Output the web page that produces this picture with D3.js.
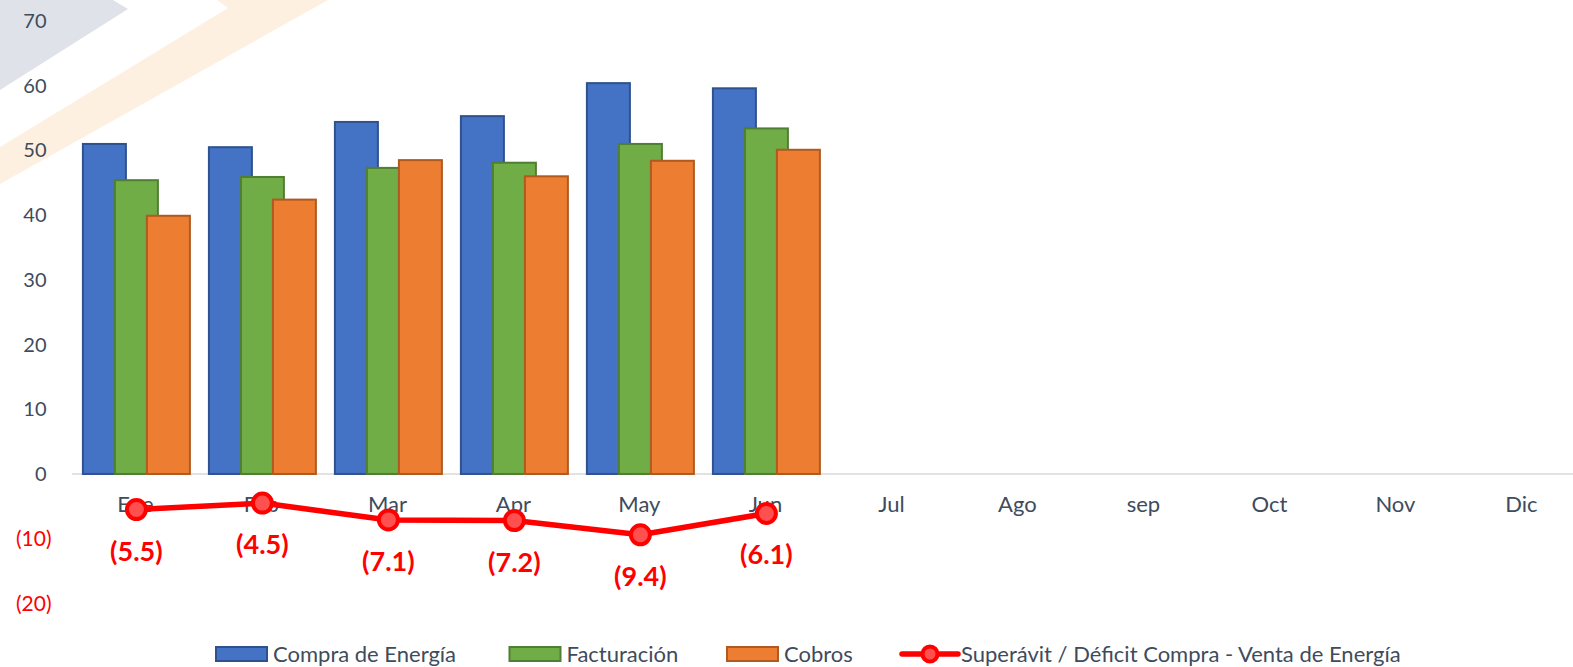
<!DOCTYPE html>
<html><head><meta charset="utf-8">
<script src="https://cdn.jsdelivr.net/npm/d3@7"></script>
<style>html,body{margin:0;padding:0;background:#fff;}svg{display:block;}</style>
</head><body>
<svg id="c" width="1573" height="667"></svg>
<script>
const categories = ["Ene","Feb","Mar","Apr","May","Jun","Jul","Ago","sep","Oct","Nov","Dic"];
const compra = [51.0, 50.5, 54.4, 55.3, 60.4, 59.6];
const facturacion = [45.4, 45.9, 47.3, 48.1, 51.0, 53.4];
const cobros = [39.9, 42.4, 48.5, 46.0, 48.4, 50.1];
const superavit = [-5.5, -4.5, -7.1, -7.2, -9.4, -6.1];
const yTicks = [70, 60, 50, 40, 30, 20, 10, 0, -10, -20];
const seriesNames = ["Compra de Energía", "Facturación", "Cobros", "Superávit / Déficit Compra - Venta de Energía"];

const svg = d3.select("#c");
const FONT = "Lato, 'Open Sans', sans-serif";
const textCol = "#404b5c";

// watermark shapes
svg.append("polygon").attr("points","0,0 113,0 128,9 0,90").attr("fill","#dfe2e9");
svg.append("polygon").attr("points","217,0 328,0 0,184 0,147 228,8").attr("fill","#fdf0e1");

const x = d3.scaleBand().domain(categories).range([72.4, 1584.4]).paddingInner(0).paddingOuter(0);
const y = d3.scaleLinear().domain([-20, 70]).range([603.4, 21]);

// baseline
svg.append("line").attr("x1",72).attr("x2",1573).attr("y1",y(0)).attr("y2",y(0))
  .attr("stroke","#d9d9d9").attr("stroke-width",1.5);

// y axis labels
const fmt = v => v < 0 ? "(" + Math.abs(v) + ")" : String(v);
svg.append("g").selectAll("text").data(yTicks).join("text")
  .attr("x", d => d < 0 ? 51.5 : 46.5)
  .attr("y", d => y(d))
  .attr("dy","0.35em")
  .attr("text-anchor","end")
  .attr("font-family",FONT).attr("font-size", d => d < 0 ? 21 : 20)
  .attr("fill", d => d < 0 ? "#ff0000" : textCol)
  .text(fmt);

// bars
const barW = 43, barStep = 32;
const series = [
  {vals: compra, fill:"#4472c4", stroke:"#2f528f"},
  {vals: facturacion, fill:"#70ad47", stroke:"#507e32"},
  {vals: cobros, fill:"#ed7d31", stroke:"#ae5a21"}
];
const cx = c => x(c) + x.bandwidth()/2 + 1;
series.forEach((s, i) => {
  svg.append("g").selectAll("rect").data(s.vals).join("rect")
    .attr("x", (d, j) => cx(categories[j]) + (i-1)*barStep - barW/2)
    .attr("y", d => y(d))
    .attr("width", barW)
    .attr("height", d => y(0) - y(d))
    .attr("fill", s.fill).attr("stroke", s.stroke).attr("stroke-width", 2);
});

// category labels
svg.append("g").selectAll("text").data(categories).join("text")
  .attr("x", d => x(d) + x.bandwidth()/2)
  .attr("y", 512)
  .attr("text-anchor","middle")
  .attr("font-family",FONT).attr("font-size",22).attr("fill",textCol)
  .text(d => d);

// line
const line = d3.line().x((d,j) => cx(categories[j])).y(d => y(d));
svg.append("path").datum(superavit).attr("d", line)
  .attr("fill","none").attr("stroke","#ff0000").attr("stroke-width",5.5).attr("stroke-linejoin","round");
svg.append("g").selectAll("circle").data(superavit).join("circle")
  .attr("cx", (d,j) => cx(categories[j])).attr("cy", d => y(d)).attr("r", 9.5)
  .attr("fill","#ff5050").attr("stroke","#ff0000").attr("stroke-width",4);
svg.append("g").selectAll("text").data(superavit).join("text")
  .attr("x", (d,j) => cx(categories[j]))
  .attr("y", d => y(d) + 51)
  .attr("text-anchor","middle")
  .attr("font-family",FONT).attr("font-weight","bold").attr("font-size",27).attr("fill","#ff0000")
  .text(d => "(" + Math.abs(d).toFixed(1) + ")");

// legend
const lg = svg.append("g");
const legY = 654;
const legItems = [
  {x:216, fill:"#4472c4", stroke:"#2f528f", name: seriesNames[0]},
  {x:509.5, fill:"#70ad47", stroke:"#507e32", name: seriesNames[1]},
  {x:727, fill:"#ed7d31", stroke:"#ae5a21", name: seriesNames[2]}
];
legItems.forEach(it => {
  lg.append("rect").attr("x", it.x).attr("y", legY-7).attr("width", 51).attr("height", 14)
    .attr("fill", it.fill).attr("stroke", it.stroke).attr("stroke-width", 2);
  lg.append("text").attr("x", it.x + 57).attr("y", legY).attr("dy","0.35em")
    .attr("font-family",FONT).attr("font-size",22).attr("fill",textCol).text(it.name);
});
lg.append("line").attr("x1",902).attr("x2",958).attr("y1",legY).attr("y2",legY)
  .attr("stroke","#ff0000").attr("stroke-width",5.5).attr("stroke-linecap","round");
lg.append("circle").attr("cx",930).attr("cy",legY).attr("r",7.5)
  .attr("fill","#ff5050").attr("stroke","#ff0000").attr("stroke-width",4);
lg.append("text").attr("x", 961).attr("y", legY).attr("dy","0.35em")
  .attr("font-family",FONT).attr("font-size",22).attr("fill",textCol).text(seriesNames[3]);
</script>
</body></html>
